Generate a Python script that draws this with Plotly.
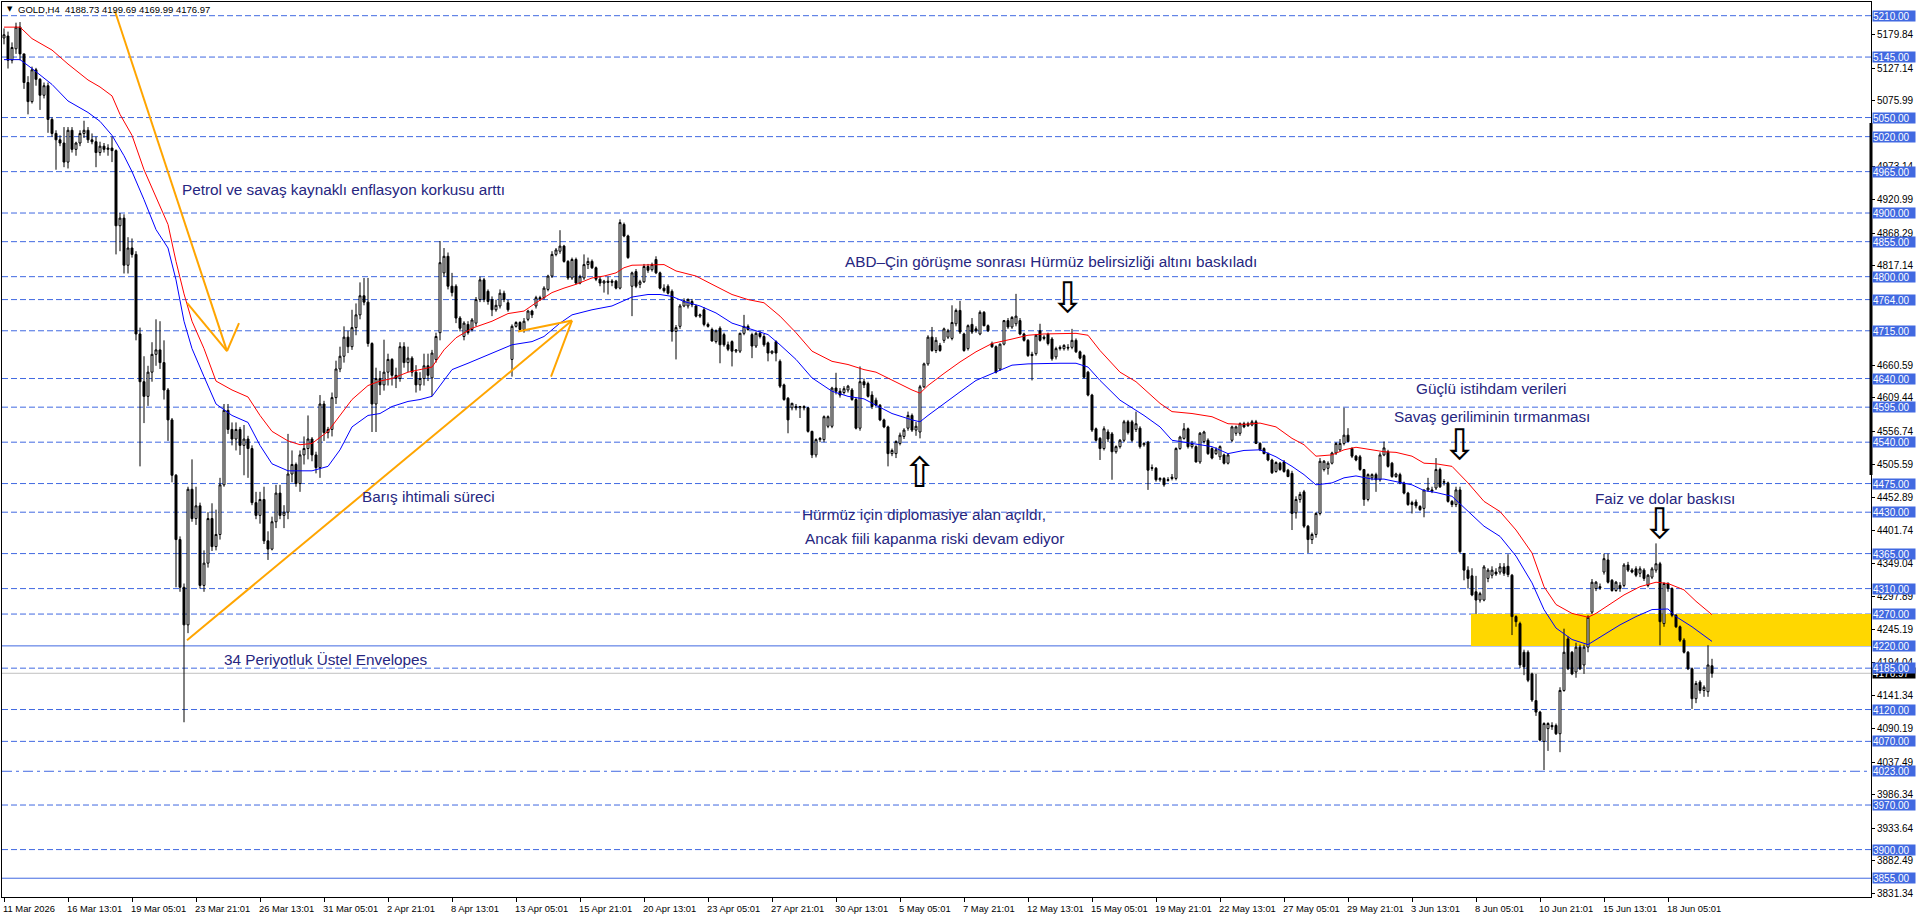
import plotly.graph_objects as go

# ---------------- data ----------------
opens = [
5175,5178,5140,5158,5192,5150,5105,5075,5125,5110,
5085,5100,5047,5025,5015,5010,4980,5030,5000,5010,
5025,5030,5015,5012,4995,5005,5000,5002,4998,4880,
4892,4818,4845,4835,4710,4635,4612,4650,4678,4685,
4665,4622,4575,4488,4387,4312,4253,4466,4420,4440,
4315,4350,4420,4376,4395,4473,4590,4560,4545,4560,
4535,4545,4530,4445,4425,4450,4385,4372,4415,4460,
4425,4430,4490,4505,4475,4520,4530,4545,4520,4500,
4600,4555,4560,4610,4655,4675,4705,4690,4720,4740,
4770,4760,4695,4600,4640,4630,4650,4670,4645,4640,
4690,4665,4672,4650,4630,4640,4660,4641,4670,4712,
4806,4832,4785,4785,4735,4706,4725,4717,4727,4764,
4795,4777,4764,4748,4754,4774,4759,4670,4722,4728,
4717,4733,4746,4754,4767,4767,4780,4801,4835,4840,
4848,4824,4798,4827,4790,4798,4819,4824,4814,4796,
4790,4793,4791,4793,4782,4882,4864,4785,4808,4788,
4792,4816,4811,4827,4806,4782,4785,4777,4714,4722,
4754,4754,4761,4754,4738,4748,4725,4717,4698,4719,
4709,4693,4698,4683,4683,4711,4722,4709,4691,4711,
4706,4696,4680,4698,4667,4630,4609,4594,4596,4594,
4596,4594,4557,4520,4544,4544,4565,4565,4625,4620,
4618,4622,4622,4607,4562,4635,4632,4614,4606,4598,
4575,4564,4522,4522,4538,4549,4562,4582,4559,4556,
4627,4663,4705,4684,4692,4700,4705,4703,4726,4747,
4710,4687,4725,4718,4710,4744,4723,4695,4690,4655,
4694,4731,4721,4726,4731,4710,4700,4678,4679,4715,
4705,4710,4702,4674,4689,4687,4689,4689,4700,4682,
4676,4650,4614,4561,4546,4530,4556,4553,4525,4533,
4543,4572,4572,4560,4562,4536,4540,4500,4499,4481,
4483,4480,4485,4483,4530,4546,4561,4533,4533,4509,
4541,4543,4530,4522,4517,4520,4507,4543,4554,4554,
4569,4566,4567,4572,4538,4530,4522,4512,4494,4507,
4509,4496,4491,4429,4450,4462,4408,4387,4395,4428,
4497,4499,4507,4523,4528,4538,4551,4530,4518,4517,
4497,4450,4484,4489,4481,4520,4525,4507,4486,4489,
4476,4460,4445,4446,4439,4436,4465,4465,4468,4497,
4477,4476,4447,4442,4465,4365,4339,4330,4305,4292,
4292,4326,4331,4336,4336,4344,4345,4331,4266,4255,
4210,4210,4176,4134,4116,4070,4090,4095,4095,4082,
4150,4231,4210,4179,4218,4190,4218,4273,4310,4313,
4336,4355,4323,4307,4315,4315,4347,4339,4341,4334,
4339,4315,4328,4339,4349,4255,4318,4310,4268,4250,
4229,4210,4184,4137,4163,4150,4148,4188.73]

highs = [
5190,5185,5168,5199,5200,5150,5115,5130,5128,5112,
5105,5105,5050,5030,5022,5035,5035,5035,5012,5030,
5045,5035,5025,5020,5012,5010,5008,5020,5000,4900,
4898,4862,4860,4840,4720,4675,4660,4697,4733,4730,
4700,4625,4578,4490,4392,4318,4470,4513,4470,4445,
4370,4430,4444,4434,4484,4600,4600,4571,4571,4564,
4567,4550,4535,4462,4462,4470,4400,4423,4473,4473,
4441,4553,4527,4508,4527,4549,4582,4548,4525,4614,
4605,4564,4618,4668,4690,4722,4715,4748,4758,4791,
4798,4798,4697,4657,4652,4701,4679,4672,4657,4697,
4697,4690,4675,4661,4650,4679,4679,4685,4712,4856,
4845,4838,4806,4788,4738,4730,4730,4735,4768,4800,
4798,4780,4769,4764,4780,4778,4764,4725,4730,4730,
4735,4748,4748,4770,4770,4785,4803,4840,4845,4873,
4850,4826,4830,4830,4803,4835,4830,4827,4816,4800,
4795,4800,4796,4795,4890,4885,4866,4808,4812,4795,
4820,4820,4822,4832,4808,4788,4788,4780,4724,4757,
4766,4766,4765,4756,4742,4752,4728,4720,4717,4722,
4712,4698,4700,4686,4712,4740,4725,4712,4714,4715,
4710,4698,4684,4700,4670,4632,4611,4602,4600,4597,
4598,4595,4558,4546,4548,4582,4582,4627,4649,4625,
4628,4630,4625,4610,4659,4640,4635,4620,4610,4600,
4577,4566,4530,4543,4555,4562,4588,4585,4572,4630,
4665,4708,4721,4705,4696,4720,4718,4755,4750,4762,
4712,4725,4735,4722,4747,4746,4725,4698,4692,4695,
4732,4735,4738,4773,4735,4712,4702,4682,4710,4726,
4708,4712,4705,4690,4692,4694,4694,4718,4703,4684,
4678,4652,4616,4563,4548,4565,4560,4556,4535,4545,
4575,4575,4575,4588,4565,4540,4542,4505,4501,4485,
4485,4485,4490,4532,4550,4570,4563,4542,4535,4556,
4558,4546,4532,4532,4535,4522,4522,4566,4566,4571,
4572,4572,4575,4575,4540,4532,4524,4514,4510,4509,
4512,4498,4495,4455,4462,4465,4410,4398,4430,4515,
4512,4510,4525,4540,4545,4594,4562,4532,4520,4520,
4498,4491,4491,4492,4524,4541,4528,4509,4492,4492,
4478,4462,4448,4450,4441,4465,4484,4470,4515,4500,
4482,4478,4449,4470,4470,4366,4345,4342,4330,4305,
4347,4342,4345,4342,4350,4350,4364,4333,4268,4258,
4214,4213,4178,4176,4118,4100,4100,4100,4098,4155,
4247,4235,4212,4225,4222,4222,4268,4325,4322,4318,
4365,4365,4325,4322,4320,4350,4352,4342,4345,4345,
4342,4333,4344,4381,4352,4320,4320,4312,4270,4252,
4232,4212,4186,4165,4166,4158,4221,4199.69]

lows = [
5165,5127,5135,5150,5140,5095,5055,5072,5100,5062,
5080,5026,5020,4968,5005,4972,4970,4995,4990,5005,
5018,5010,5008,4972,4990,4995,4990,4980,4835,4840,
4805,4805,4830,4700,4502,4570,4597,4635,4660,4655,
4607,4542,4477,4312,4305,4100,4240,4415,4410,4310,
4305,4343,4369,4370,4387,4470,4553,4535,4527,4520,
4488,4484,4441,4419,4412,4380,4355,4370,4405,4419,
4405,4419,4477,4470,4462,4505,4513,4510,4491,4484,
4542,4546,4549,4600,4650,4665,4680,4685,4708,4733,
4755,4690,4556,4556,4614,4621,4629,4629,4625,4635,
4657,4650,4643,4618,4621,4629,4636,4612,4665,4700,
4800,4780,4769,4727,4714,4700,4709,4714,4722,4760,
4760,4756,4738,4745,4750,4760,4745,4643,4720,4714,
4712,4730,4735,4750,4762,4764,4777,4798,4832,4836,
4822,4795,4795,4788,4788,4795,4812,4812,4793,4785,
4775,4772,4785,4780,4780,4862,4828,4738,4782,4782,
4790,4806,4808,4804,4780,4775,4772,4698,4670,4718,
4752,4750,4752,4736,4735,4722,4720,4698,4695,4664,
4690,4683,4659,4680,4680,4708,4715,4672,4688,4703,
4690,4667,4678,4667,4625,4605,4554,4590,4590,4578,
4590,4555,4515,4516,4540,4540,4562,4562,4615,4610,
4615,4618,4605,4560,4558,4625,4610,4592,4596,4573,
4562,4502,4518,4515,4535,4545,4558,4556,4550,4546,
4625,4660,4682,4680,4682,4696,4702,4700,4722,4710,
4682,4684,4710,4712,4708,4722,4713,4688,4648,4652,
4692,4718,4718,4722,4708,4698,4674,4637,4676,4698,
4700,4692,4668,4670,4684,4684,4684,4686,4680,4670,
4640,4612,4556,4541,4512,4527,4540,4481,4522,4530,
4540,4552,4540,4556,4530,4533,4465,4495,4478,4478,
4470,4478,4480,4480,4528,4544,4530,4530,4508,4506,
4538,4520,4513,4520,4512,4505,4505,4540,4550,4550,
4562,4564,4565,4537,4526,4521,4510,4490,4492,4495,
4492,4485,4402,4420,4445,4405,4366,4380,4390,4425,
4494,4489,4505,4520,4525,4535,4540,4515,4510,4495,
4440,4447,4480,4462,4478,4518,4500,4484,4484,4474,
4458,4440,4428,4436,4432,4422,4462,4460,4465,4468,
4472,4445,4438,4438,4365,4323,4310,4298,4270,4288,
4290,4320,4326,4330,4332,4330,4328,4237,4250,4185,
4174,4163,4132,4110,4070,4025,4055,4088,4080,4053,
4148,4182,4174,4170,4182,4176,4210,4270,4306,4308,
4332,4318,4305,4305,4305,4312,4336,4334,4328,4328,
4322,4312,4325,4335,4221,4250,4305,4265,4248,4226,
4208,4182,4121,4130,4145,4140,4140,4169.99]

closes = [
5180,5140,5160,5192,5150,5105,5075,5125,5110,5085,
5100,5047,5025,5015,5010,4980,5030,5000,5010,5025,
5030,5015,5012,4995,5005,5000,5002,4998,4880,4892,
4818,4845,4835,4710,4635,4612,4650,4678,4685,4665,
4622,4575,4488,4387,4312,4253,4466,4420,4440,4315,
4350,4420,4376,4395,4473,4590,4560,4545,4560,4535,
4545,4530,4445,4425,4450,4385,4372,4415,4460,4425,
4430,4490,4505,4475,4520,4530,4545,4520,4500,4600,
4555,4560,4610,4655,4675,4705,4690,4720,4740,4770,
4760,4695,4600,4640,4630,4650,4670,4645,4640,4690,
4665,4672,4650,4630,4640,4660,4645,4680,4706,4822,
4832,4785,4775,4735,4719,4727,4712,4732,4764,4795,
4764,4761,4748,4755,4774,4764,4748,4722,4728,4717,
4730,4746,4740,4767,4765,4782,4801,4835,4842,4848,
4824,4798,4827,4790,4800,4819,4824,4814,4796,4790,
4793,4791,4793,4782,4885,4864,4830,4806,4785,4792,
4816,4810,4819,4806,4782,4778,4774,4714,4720,4754,
4762,4764,4756,4738,4740,4725,4722,4699,4715,4693,
4693,4686,4683,4685,4711,4722,4717,4691,4711,4706,
4693,4680,4683,4680,4628,4607,4575,4601,4594,4596,
4594,4557,4520,4544,4546,4580,4580,4625,4620,4614,
4624,4628,4607,4562,4635,4630,4612,4596,4598,4575,
4564,4522,4527,4541,4551,4559,4582,4559,4565,4627,
4663,4705,4684,4700,4684,4718,4715,4728,4747,4713,
4684,4723,4713,4715,4744,4723,4715,4690,4650,4694,
4731,4721,4736,4738,4710,4700,4676,4676,4708,4700,
4703,4695,4671,4687,4687,4692,4688,4700,4682,4672,
4642,4614,4559,4543,4530,4561,4545,4525,4533,4543,
4572,4555,4543,4569,4533,4538,4496,4499,4481,4483,
4473,4481,4483,4530,4548,4561,4533,4538,4509,4554,
4556,4522,4515,4528,4533,4507,4520,4564,4564,4569,
4564,4569,4572,4538,4528,4522,4512,4492,4508,4497,
4494,4486,4428,4450,4458,4408,4387,4395,4428,4510,
4510,4507,4523,4538,4538,4551,4541,4518,4512,4497,
4450,4489,4489,4481,4520,4531,4502,4486,4490,4476,
4460,4442,4442,4440,4434,4465,4468,4463,4497,4470,
4478,4447,4442,4465,4368,4339,4326,4300,4292,4302,
4344,4339,4339,4333,4344,4334,4332,4266,4258,4190,
4187,4166,4135,4116,4072,4098,4098,4093,4082,4150,
4210,4184,4176,4218,4184,4218,4265,4320,4320,4311,
4357,4320,4307,4320,4310,4347,4339,4336,4331,4341,
4326,4331,4341,4349,4258,4318,4310,4268,4250,4229,
4210,4184,4137,4161,4150,4155,4190,4176.97]

# envelope bands (34-period exponential envelopes), read at sampled bars
red_bars = [0,4,7,12,16,21,24,27,29,32,35,38,41,43,45,47,50,53,57,61,64,67,71,74,77,81,84,87,91,94,97,
            101,104,107,110,113,117,122,126,130,133,137,140,143,147,150,153,155,157,161,165,168,173,177,
            182,186,190,194,198,202,207,211,215,218,222,227,229,231,235,239,243,247,252,256,260,264,268,
            271,274,279,283,289,292,297,302,306,310,314,318,322,325,328,332,335,338,342,345,348,352,355,
            358,362,366,370,374,378,382,385,388,392,396,398,402,405,409,413,416,420,423,427]
red_vals = [5192,5192,5174,5156,5134,5109,5098,5084,5055,5022,4968,4925,4882,4824,4773,4730,4687,4636,4622,
            4611,4582,4557,4542,4536,4538,4557,4582,4607,4629,4636,4640,4650,4654,4658,4685,4704,4719,4730,
            4742,4746,4759,4775,4782,4788,4798,4801,4806,4814,4818,4819,4819,4809,4801,4788,4772,4764,4759,
            4738,4712,4683,4667,4662,4654,4650,4637,4622,4617,4629,4648,4666,4682,4695,4702,4708,4710,4710,
            4711,4708,4684,4650,4635,4601,4588,4585,4580,4569,4568,4570,4564,4546,4536,4518,4520,4528,4532,
            4528,4525,4524,4518,4507,4506,4502,4476,4447,4431,4402,4366,4313,4285,4271,4265,4271,4287,4300,
            4313,4320,4318,4308,4290,4269]
blue_bars = [0,4,7,12,16,21,24,27,30,32,35,38,41,43,45,47,50,53,57,61,64,67,71,74,77,81,84,87,91,94,97,
             101,104,107,112,116,122,127,132,135,139,142,147,152,157,161,164,167,170,174,178,182,187,191,
             194,198,202,207,211,215,218,222,227,229,231,235,239,243,247,252,256,260,264,268,271,274,279,
             285,289,292,297,302,306,310,314,318,322,325,328,332,335,338,342,345,348,352,355,358,362,366,
             370,374,378,382,385,388,392,396,400,404,408,412,416,418,422,427]
blue_vals = [5141,5141,5127,5102,5076,5058,5044,5022,4990,4965,4921,4874,4845,4795,4730,4687,4643,4600,4582,
             4571,4535,4506,4495,4495,4495,4502,4528,4564,4582,4585,4596,4604,4607,4612,4654,4664,4680,4693,
             4698,4706,4727,4740,4748,4754,4768,4772,4772,4769,4761,4754,4743,4727,4717,4709,4693,4670,4641,
             4620,4612,4608,4598,4585,4575,4572,4582,4601,4619,4637,4648,4661,4663,4664,4664,4664,4658,4637,
             4606,4582,4564,4543,4538,4533,4522,4527,4528,4517,4502,4489,4473,4476,4484,4487,4482,4482,4478,
             4473,4464,4461,4455,4431,4408,4392,4361,4319,4277,4248,4230,4222,4237,4253,4266,4277,4278,4266,
             4250,4227]

x_tick_bars = [0,16,32,48,64,80,96,112,128,144,160,176,192,208,224,240,256,272,288,304,320,336,352,368,384,400,416]
x_tick_labels = ["11 Mar 2026","16 Mar 13:01","19 Mar 05:01","23 Mar 21:01","26 Mar 13:01","31 Mar 05:01",
                 "2 Apr 21:01","8 Apr 13:01","13 Apr 05:01","15 Apr 21:01","20 Apr 13:01","23 Apr 05:01",
                 "27 Apr 21:01","30 Apr 13:01","5 May 05:01","7 May 21:01","12 May 13:01","15 May 05:01",
                 "19 May 21:01","22 May 13:01","27 May 05:01","29 May 21:01","3 Jun 13:01","8 Jun 05:01",
                 "10 Jun 21:01","15 Jun 13:01","18 Jun 05:01"]

y_tick_vals = [5179.84,5127.14,5075.99,4973.14,4920.99,4868.29,4817.14,4660.59,4609.44,4556.74,4505.59,
               4452.89,4401.74,4349.04,4297.89,4245.19,4194.04,4141.34,4090.19,4037.49,3986.34,3933.64,
               3882.49,3831.34]

dashed_levels = [5210,5145,5050,5020,4965,4900,4855,4800,4764,4715,4640,4595,4540,4475,4430,4365,4310,4270,
                 4185,4120,4070,3970,3900]
solid_levels = [4220,3855]
dashdot_levels = [4023]
last_price = 4176.97
zone_low, zone_high = 4220, 4270
zone_start_bar = 366.75

header = "GOLD,H4  4188.73 4199.69 4169.99 4176.97"

notes = [  # text, bar, price
    ("Petrol ve savaş kaynaklı enflasyon korkusu arttı", 44.0, 4937),
    ("ABD–Çin görüşme sonrası Hürmüz belirsizliği altını baskıladı", 209.75, 4824),
    ("Güçlü istihdam verileri", 352.5, 4625),
    ("Savaş geriliminin tırmanması", 347.0, 4581),
    ("Barış ihtimali süreci", 89.0, 4455),
    ("Hürmüz için diplomasiye alan açıldı,", 199.0, 4426),
    ("Ancak fiili kapanma riski devam ediyor", 199.75, 4388),
    ("Faiz ve dolar baskısı", 397.25, 4452),
    ("34 Periyotluk Üstel Envelopes", 54.5, 4199),
]
arrows = [  # glyph, bar, price
    ("⇩", 265.75, 4768),
    ("⇧", 228.75, 4493),
    ("⇩", 363.75, 4537),
    ("⇩", 413.75, 4413),
]
orange_segments = [  # (bar0, price0, bar1, price1)
    (27.75, 5217, 55.75, 4683),
    (55.75, 4683, 45.75, 4759),
    (55.75, 4683, 58.75, 4727),
    (45.75, 4229, 142.0, 4731),
    (142.0, 4731, 128.5, 4714),
    (142.0, 4731, 136.75, 4643),
]

X_MIN, X_MAX = -0.5, 466.75
Y_MIN, Y_MAX = 3825.5, 5231.5

LEVEL_BLUE = "#4169E1"
TEXT_COL = "#262680"
FONT = "Liberation Sans, Arial, sans-serif"

bars = list(range(len(closes)))

fig = go.Figure()

fig.add_trace(go.Candlestick(
    x=bars, open=opens, high=highs, low=lows, close=closes,
    increasing=dict(line=dict(color="black", width=1), fillcolor="white"),
    decreasing=dict(line=dict(color="black", width=1), fillcolor="black"),
    whiskerwidth=0, hoverinfo="skip", showlegend=False))

fig.add_trace(go.Scatter(x=red_bars, y=red_vals, mode="lines",
                         line=dict(color="#FF0000", width=1), hoverinfo="skip", showlegend=False))
fig.add_trace(go.Scatter(x=blue_bars, y=blue_vals, mode="lines",
                         line=dict(color="#0000FF", width=1), hoverinfo="skip", showlegend=False))

shapes = []
# yellow zone
shapes.append(dict(type="rect", xref="x", yref="y", x0=zone_start_bar, x1=X_MAX, y0=zone_low, y1=zone_high,
                   fillcolor="#FFD700", line=dict(width=0), layer="below"))
for lv in dashed_levels:
    shapes.append(dict(type="line", xref="paper", yref="y", x0=0, x1=1, y0=lv, y1=lv,
                       line=dict(color=LEVEL_BLUE, width=1, dash="6px,3px"), layer="below"))
for lv in solid_levels:
    shapes.append(dict(type="line", xref="paper", yref="y", x0=0, x1=1, y0=lv, y1=lv,
                       line=dict(color=LEVEL_BLUE, width=1), layer="below"))
for lv in dashdot_levels:
    shapes.append(dict(type="line", xref="paper", yref="y", x0=0, x1=1, y0=lv, y1=lv,
                       line=dict(color=LEVEL_BLUE, width=1, dash="10px,4px,3px,4px"), layer="below"))
shapes.append(dict(type="line", xref="paper", yref="y", x0=0, x1=1, y0=last_price, y1=last_price,
                   line=dict(color="#C0C0C0", width=1), layer="below"))
for b0, p0, b1, p1 in orange_segments:
    shapes.append(dict(type="line", xref="x", yref="y", x0=b0, y0=p0, x1=b1, y1=p1,
                       line=dict(color="#FFA500", width=2), layer="above"))
# thick marker on the price scale
shapes.append(dict(type="line", xref="paper", yref="y", x0=1, x1=1, y0=4488.5, y1=5041.4,
                   line=dict(color="black", width=3), layer="above"))

ann = []
ann.append(dict(text="▼", xref="paper", yref="paper", x=0, y=1, xanchor="left", yanchor="top",
                xshift=3, yshift=-1, showarrow=False, font=dict(family="DejaVu Sans", size=7, color="black")))
ann.append(dict(text=header, xref="paper", yref="paper", x=0, y=1, xanchor="left", yanchor="top",
                xshift=14, yshift=0, showarrow=False, font=dict(family=FONT, size=9.5, color="black")))
for txt, b, p in notes:
    ann.append(dict(text=txt, xref="x", yref="y", x=b, y=p, xanchor="left", yanchor="middle",
                    showarrow=False, font=dict(family=FONT, size=15.3, color=TEXT_COL)))
for g, b, p in arrows:
    ann.append(dict(text=g, xref="x", yref="y", x=b, y=p, xanchor="center", yanchor="middle",
                    showarrow=False, font=dict(family="DejaVu Sans", size=42, color="black")))
for b, lab in zip(x_tick_bars, x_tick_labels):
    ann.append(dict(text=lab, xref="x", yref="paper", x=b, y=0, xanchor="left", yanchor="top",
                    xshift=-3, yshift=-4, showarrow=False, font=dict(family=FONT, size=9.4, color="black")))
# price-scale labels: current price (black) then level labels (blue)
ann.append(dict(text=f"{last_price:.2f}", xref="paper", yref="y", x=1, y=last_price, xanchor="left",
                yanchor="middle", xshift=1, showarrow=False, bgcolor="black", borderpad=0, width=42, height=10,
                align="left", font=dict(family=FONT, size=10, color="white")))
for lv in sorted(dashed_levels + solid_levels + dashdot_levels, reverse=True):
    ann.append(dict(text=f"{lv:.2f}", xref="paper", yref="y", x=1, y=lv, xanchor="left",
                    yanchor="middle", xshift=1, showarrow=False, bgcolor=LEVEL_BLUE, borderpad=0, width=42,
                    height=10, align="left", font=dict(family=FONT, size=10, color="white")))

fig.update_layout(
    width=1916, height=917,
    margin=dict(l=2, r=45, t=2, b=20),
    paper_bgcolor="white", plot_bgcolor="white",
    showlegend=False, hovermode=False,
    shapes=shapes, annotations=ann,
    xaxis=dict(range=[X_MIN, X_MAX], showgrid=False, zeroline=False, showline=True, linecolor="black",
               linewidth=1, mirror=True, ticks="outside", ticklen=4, tickcolor="black",
               tickvals=x_tick_bars, showticklabels=False, rangeslider=dict(visible=False), fixedrange=True),
    yaxis=dict(range=[Y_MIN, Y_MAX], side="right", showgrid=False, zeroline=False, showline=True,
               linecolor="black", linewidth=1, mirror=True, ticks="outside", ticklen=3, tickcolor="black",
               tickvals=y_tick_vals, ticktext=[f"{v:.2f}" for v in y_tick_vals],
               tickfont=dict(family=FONT, size=10, color="black"), fixedrange=True),
)

fig.write_html("out.html", config={"displayModeBar": False})
